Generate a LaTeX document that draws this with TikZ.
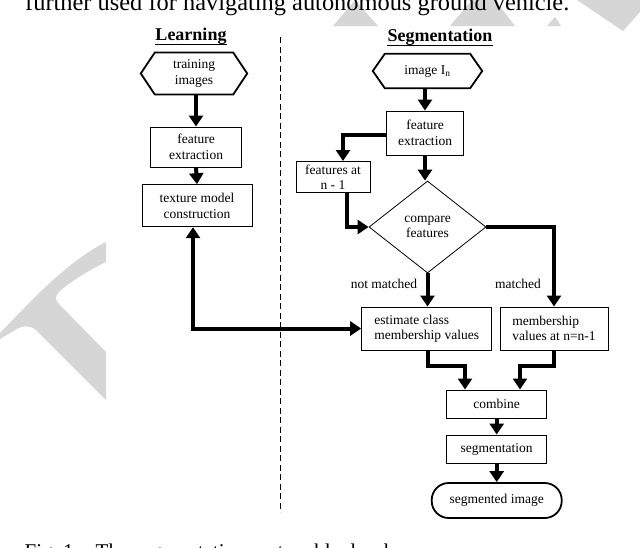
\documentclass[tikz,border=0pt]{standalone}
\usepackage{fontspec}
\setmainfont{Liberation Serif}
\usetikzlibrary{arrows.meta,shapes.geometric}
\newcommand\dtxt{\fontsize{13.5}{15.5}\selectfont}
\newcommand\ttltxt{\fontsize{18}{20}\selectfont\bfseries}
\definecolor{wm}{RGB}{214,214,214}
\begin{document}
\begin{tikzpicture}[x=1pt,y=-1pt,
  box/.style={draw,line width=1pt,inner sep=0pt,align=center,font=\dtxt},
  hexin/.style={inner sep=0pt,align=center,font=\dtxt},
  hexline/.style={line width=1.8pt,line join=miter},
  arr/.style={line width=4pt,line join=miter,-{Triangle[width=14pt,length=11pt]}},
  darr/.style={line width=4pt,line join=miter,{Triangle[width=14pt,length=11pt]}-{Triangle[width=14pt,length=11pt]}},
  lbl/.style={font=\dtxt,inner sep=0pt,anchor=base},
  ttl/.style={font=\ttltxt,inner sep=0pt,anchor=base}]
\clip (0,0) rectangle (640,547);
\useasboundingbox (0,0) rectangle (640,547);
% watermark
\fill[wm] (0,333) -- (30,302) .. controls (55,277) and (80,255) .. (106,242) -- (106,262)
  .. controls (85,272) and (66,285) .. (59,292) .. controls (55,296) and (55,300) .. (59,304)
  -- (106,352) -- (106,400) -- (37,331) .. controls (31,325) and (23,325) .. (15,330) -- (0,339) -- cycle;
\fill[wm] (333,26) -- (355,0) -- (378,26) -- cycle;
\fill[wm] (450,26) -- (472,0) -- (495,0) -- (515,26) -- cycle;
\fill[wm] (547,26) -- (555,17) -- (561,26) -- cycle;
\fill[wm] (577,0) -- (623,31) -- (640,12) -- (640,0) -- cycle;
% running text
\node[font=\fontsize{24.4}{26}\selectfont,inner sep=0pt,anchor=base west] (toptext) at (25,10.5) {further used for navigating autonomous ground vehicle.};
\node[font=\fontsize{21}{23}\selectfont,inner sep=0pt,anchor=base west] (capa) at (24.5,558) {Fig.\ 1.};
\node[font=\fontsize{21}{23}\selectfont,inner sep=0pt,anchor=base west] (capb) at (95.5,558) {The segmentation system block scheme.};
% titles
\node[ttl] (lt) at (191,40.5) {Learning};
\draw[line width=1.3pt] ([yshift=-3.8pt]lt.base west) -- ([yshift=-3.8pt]lt.base east);
\node[ttl] (st) at (440,41.5) {Segmentation};
\draw[line width=1.3pt] ([yshift=-3.8pt]st.base west) -- ([yshift=-3.8pt]st.base east);
% divider
\coordinate (dtop) at (280,37);
\coordinate (dbot) at (280,512);
\draw[line width=0.9pt,dash pattern=on 6pt off 3.5pt] (dtop) -- (dbot);
% learning column
\node[hexin,minimum width=78pt,minimum height=41.5pt] (ti) at (194,73.5) {training\\images};
\draw[hexline] (ti.north west) -- (ti.north east) -- ([xshift=14pt]ti.east) -- (ti.south east) -- (ti.south west) -- ([xshift=-14pt]ti.west) -- cycle;
\node[box,minimum width=91pt,minimum height=40pt] (fe1) at (196,147) {feature\\extraction};
\node[box,minimum width=110pt,minimum height=42pt] (tm) at (197,205.7) {texture model\\construction};
% segmentation column
\node[hexin,minimum width=85pt,minimum height=34pt] (im) at (427.5,71) {image I\textsubscript{n}};
\draw[hexline] (im.north west) -- (im.north east) -- ([xshift=12pt]im.east) -- (im.south east) -- (im.south west) -- ([xshift=-12pt]im.west) -- cycle;
\node[box,minimum width=77pt,minimum height=44pt] (fe2) at (425,133) {feature\\extraction};
\node[box,minimum width=74pt,minimum height=31pt] (fn) at (333,177) {features at\\n - 1};
\node[diamond,draw,line width=0.8pt,inner sep=0pt,minimum width=117pt,minimum height=92pt,align=center,font=\dtxt] (cmp) at (427.5,227) {compare\\features};
\node[box,align=left,minimum width=130pt,minimum height=43pt] (est) at (426.7,328.5) {estimate class\\membership values};
\node[box,align=left,minimum width=108pt,minimum height=43pt] (mem) at (554,328.5) {membership\\values at n=n-1};
\node[box,minimum width=100pt,minimum height=28pt] (comb) at (496.7,404) {combine};
\node[box,minimum width=100pt,minimum height=28pt] (seg) at (496.7,449) {segmentation};
\node[draw,line width=1.8pt,rounded corners=17pt,inner sep=0pt,minimum width=130pt,minimum height=35pt,font=\dtxt] (out) at (496.7,500.5) {segmented image};
\node[lbl] (nm) at (384,288) {not matched};
\node[lbl] (ma) at (518,288) {matched};
% connectors
\draw[arr] (fe1.north |- ti.south) -- (fe1.north);
\draw[arr] (fe1.south) -- (tm.north);
\draw[darr] ([xshift=-4pt]tm.south) |- (est.west);
\draw[arr] (fe2.north |- im.south) -- (fe2.north);
\draw[arr] ([yshift=-2pt]fe2.west) -| ([xshift=10pt]fn.north);
\draw[arr] (fe2.south) -- (fe2.south |- cmp.north);
\draw[arr] ([xshift=14pt]fn.south) |- (cmp.west);
\draw[arr] (cmp.east) -| (mem.north);
\draw[arr] (cmp.south) -- (cmp.south |- est.north);
\coordinate (jl) at (428,366);
\coordinate (jr) at (554,366);
\draw[arr] (est.south -| jl) -- (jl) -| ([xshift=-31.7pt]comb.north);
\draw[arr] (mem.south) -- (jr) -| ([xshift=23.3pt]comb.north);
\draw[arr] (comb.south) -- (seg.north);
\draw[arr] (seg.south) -- (out.north);
\end{tikzpicture}
\end{document}
